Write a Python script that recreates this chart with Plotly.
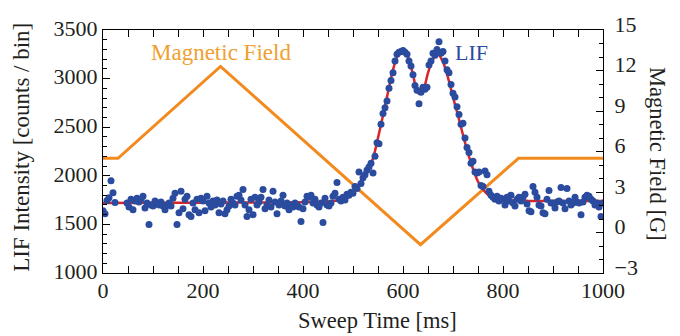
import numpy as np
import plotly.graph_objects as go

# ---- data ----
lif_time = list(range(0, 1001, 4))
lif_counts = [
    1640, 1610, 1745, 1775, 1950, 1825, 1725, None, None, None,
    None, None, 1720, 1680, 1760, 1650, 1740, 1770, 1730, 1760,
    1790, 1670, 1720, 1500, 1700, 1690, 1740, 1720, 1700, 1730,
    1690, 1650, 1700, 1720, 1690, 1770, 1820, 1500, 1620, 1840,
    1660, 1760, 1790, 1600, 1580, 1720, 1650, 1760, 1620, 1770,
    1740, 1640, 1790, 1720, 1680, 1740, 1700, 1750, 1620, 1710,
    1740, 1610, 1650, 1690, 1760, 1720, 1700, 1790, 1800, 1750,
    1860, 1700, 1580, 1650, 1760, 1600, 1780, 1700, 1730, 1780,
    1860, 1660, 1700, 1750, 1680, 1840, 1730, 1610, 1700, 1740,
    1800, 1690, 1720, 1650, 1700, 1680, 1720, 1700, 1680, 1530,
    1660, 1730, 1790, 1780, 1800, 1720, 1760, 1700, 1680, 1720,
    1520, 1770, 1700, 1690, 1720, 1790, 1820, 1930, 1760, 1740,
    1780, 1750, 1810, 1800, 1830, 1820, 1890, 1870, 2040, 1920,
    1980, 2010, 2060, 2090, 2130, 2030, 2200, 2340, 2330, 2530,
    2640, 2700, 2770, 2900, 2980, 3060, 3180, 3250, 3270, 3280,
    3290, 3270, 3250, 3180, 3130, 3040, 2930, 2880, 2740, 2860,
    2910, 2890, 2910, 3140, 3180, 3260, 3240, 3300, 3380, 3260,
    3280, 3180, 3090, 3060, 2940, 2850, 2810, 2710, 2630, 2530,
    2540, 2390, 2290, 2240, 2130, 2150, 2040, 2030, 2040, 1900,
    1890, 2050, 2010, 1840, 1800, 1780, 1760, 1790, 1740, 1770,
    1760, 1700, 1780, 1740, 1800, 1720, 1690, 1760, 1780, 1740,
    1780, 1810, 1710, 1640, 1630, 1890, 1830, 1780, 1700, 1690,
    1620, 1610, 1760, 1850, 1720, 1720, 1670, 1730, 1740, 1880,
    1720, 1660, 1870, 1740, 1700, 1720, 1780, 1730, 1720, 1600,
    1730, 1780, 1800, 1790, 1760, 1740, 1700, 1720, 1680, 1580, 1720,
]

fit_time = [0, 100, 200, 300, 400, 450, 470, 480, 490, 500, 510, 520, 530, 540,
            550, 560, 570, 580, 590, 600, 610, 620, 630, 640, 650, 660, 670,
            680, 690, 700, 710, 720, 730, 740, 750, 760, 770, 780, 790, 800,
            850, 900, 1000]
fit_counts = [1720, 1722, 1724, 1726, 1728, 1735, 1745, 1755, 1775, 1830, 1900,
              1975, 2060, 2180, 2390, 2620, 2860, 3090, 3245, 3285, 3220, 3040,
              2850, 2880, 3060, 3200, 3250, 3170, 3010, 2810, 2620, 2420, 2230,
              2070, 1940, 1860, 1805, 1775, 1758, 1750, 1742, 1740, 1740]

field_time = [0, 30, 235, 635, 831, 1000]
field_gauss = [5.5, 5.5, 12.3, -0.9, 5.5, 5.5]

x_ticks = [0, 200, 400, 600, 800, 1000]
y_left_ticks = [1000, 1500, 2000, 2500, 3000, 3500]
y_right_ticks = [-3, 0, 3, 6, 9, 12, 15]

FONT = "Liberation Serif, Times New Roman, serif"
TXT = "#231F20"
ORANGE = "#F28A1E"
BLUE = "#2A4B9E"
RED = "#D9252A"

fig = go.Figure()
fig.add_trace(go.Scatter(x=field_time, y=field_gauss, mode="lines",
                         line=dict(color=ORANGE, width=3), yaxis="y",
                         showlegend=False, hoverinfo="skip"))
fig.add_trace(go.Scatter(x=fit_time, y=fit_counts, mode="lines",
                         line=dict(color=RED, width=2.5, shape="spline", smoothing=0.8),
                         yaxis="y2", showlegend=False))
fig.add_trace(go.Scatter(x=lif_time, y=lif_counts, mode="markers",
                         marker=dict(color=BLUE, size=7), yaxis="y2",
                         showlegend=False))

axis_common = dict(showline=True, linecolor="black", linewidth=1.3,
                   ticks="inside", tickcolor="black", showgrid=False,
                   zeroline=False, tickfont=dict(family=FONT, size=22, color=TXT))

fig.update_layout(
    width=680, height=336, autosize=False,
    margin=dict(l=103, r=77, t=23, b=63),
    paper_bgcolor="white", plot_bgcolor="white",
    font=dict(family=FONT, size=22, color=TXT),
    xaxis=dict(range=[0, 1000], tickvals=x_ticks, ticklen=7, mirror="allticks",
               minor=dict(dtick=50, ticks="inside", ticklen=4, tickcolor="black"),
               ticklabelstandoff=-3, **axis_common),
    yaxis=dict(range=[-3, 15], side="right", tickvals=y_right_ticks, ticklen=7,
               minor=dict(dtick=1, ticks="inside", ticklen=4, tickcolor="black"),
               ticklabelstandoff=6, ticklabelshift=-6, **axis_common),
    yaxis2=dict(range=[1000, 3500], side="left", overlaying="y",
                tickvals=y_left_ticks, ticklen=7, ticklabelshift=-2,
                minor=dict(dtick=100, ticks="inside", ticklen=4, tickcolor="black"),
                **axis_common),
    annotations=[
        dict(text="Magnetic Field", x=235, y=3267, xref="x", yref="y2",
             xanchor="center", yanchor="middle",
             showarrow=False, font=dict(family=FONT, size=23, color="#F0A030")),
        dict(text="LIF", x=737, y=3270, xref="x", yref="y2",
             xanchor="center", yanchor="middle",
             showarrow=False, font=dict(family=FONT, size=22, color=BLUE)),
        dict(text="LIF Intensity [counts / bin]", x=-0.162, y=0.515,
             xref="paper", yref="paper", textangle=-90, showarrow=False,
             xanchor="center", yanchor="middle",
             font=dict(family=FONT, size=23, color=TXT)),
        dict(text="Magnetic Field [G]", x=1.108, y=0.49,
             xref="paper", yref="paper", textangle=90, showarrow=False,
             xanchor="center", yanchor="middle",
             font=dict(family=FONT, size=22.5, color=TXT)),
        dict(text="Sweep Time [ms]", x=0.548, y=-0.196,
             xref="paper", yref="paper", showarrow=False,
             xanchor="center", yanchor="middle",
             font=dict(family=FONT, size=22.5, color=TXT)),
    ],
)

fig.write_html("out.html", config={"displayModeBar": False},
               post_script="document.body.style.margin='0';document.body.style.overflow='hidden';")
